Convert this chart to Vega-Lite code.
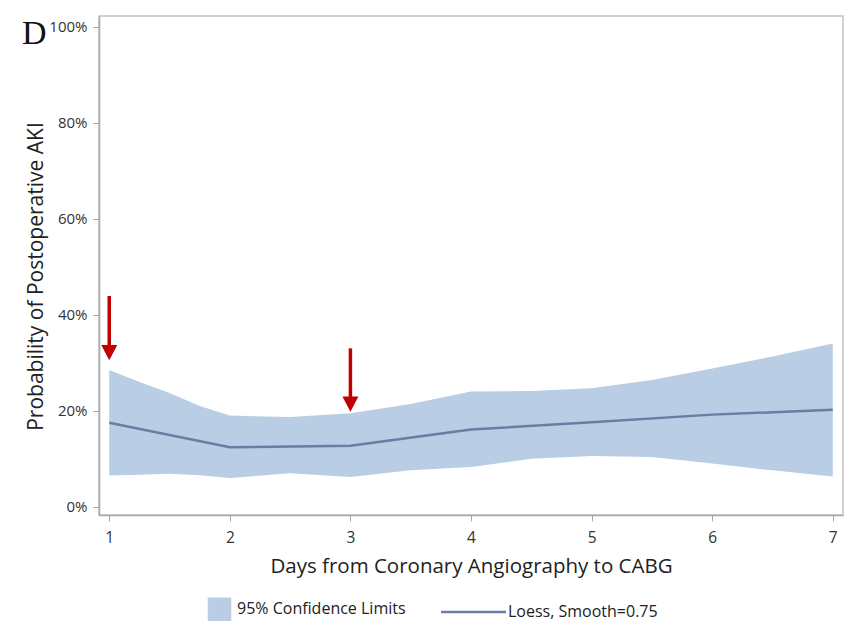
{
  "$schema": "https://vega.github.io/schema/vega-lite/v6.json",
  "width": 744,
  "height": 499,
  "autosize": {"type": "none"},
  "padding": {"left": 99, "top": 16, "right": 3, "bottom": 112},
  "background": "white",
  "config": {
    "font": "Open Sans",
    "view": {"stroke": "#c4c4c4", "strokeWidth": 1.5}
  },
  "title": {
    "text": "D",
    "font": "Liberation Serif",
    "fontSize": 34,
    "fontWeight": "normal",
    "color": "#111111",
    "anchor": "start",
    "frame": "group",
    "orient": "top",
    "baseline": "alphabetic",
    "offset": 0,
    "dx": -77,
    "dy": 62
  },
  "datasets": {
    "band": [
      {"day": 1, "lower": 6.5, "upper": 28.5, "series": "95% Confidence Limits"},
      {"day": 1.25, "lower": 6.7, "upper": 26.0, "series": "95% Confidence Limits"},
      {"day": 1.5, "lower": 6.9, "upper": 23.7, "series": "95% Confidence Limits"},
      {"day": 1.75, "lower": 6.6, "upper": 21.0, "series": "95% Confidence Limits"},
      {"day": 2, "lower": 6.0, "upper": 19.0, "series": "95% Confidence Limits"},
      {"day": 2.5, "lower": 7.0, "upper": 18.7, "series": "95% Confidence Limits"},
      {"day": 3, "lower": 6.2, "upper": 19.5, "series": "95% Confidence Limits"},
      {"day": 3.5, "lower": 7.6, "upper": 21.4, "series": "95% Confidence Limits"},
      {"day": 4, "lower": 8.3, "upper": 24.0, "series": "95% Confidence Limits"},
      {"day": 4.5, "lower": 10.0, "upper": 24.1, "series": "95% Confidence Limits"},
      {"day": 5, "lower": 10.6, "upper": 24.7, "series": "95% Confidence Limits"},
      {"day": 5.5, "lower": 10.4, "upper": 26.4, "series": "95% Confidence Limits"},
      {"day": 6, "lower": 9.0, "upper": 28.8, "series": "95% Confidence Limits"},
      {"day": 6.5, "lower": 7.6, "upper": 31.3, "series": "95% Confidence Limits"},
      {"day": 7, "lower": 6.3, "upper": 34.0, "series": "95% Confidence Limits"}
    ],
    "fit": [
      {"day": 1, "prob": 17.5, "series": "Loess, Smooth=0.75"},
      {"day": 2, "prob": 12.4, "series": "Loess, Smooth=0.75"},
      {"day": 3, "prob": 12.7, "series": "Loess, Smooth=0.75"},
      {"day": 4, "prob": 16.1, "series": "Loess, Smooth=0.75"},
      {"day": 5, "prob": 17.6, "series": "Loess, Smooth=0.75"},
      {"day": 6, "prob": 19.2, "series": "Loess, Smooth=0.75"},
      {"day": 7, "prob": 20.2, "series": "Loess, Smooth=0.75"}
    ],
    "arrows": [
      {"day": 1, "top": 43.9, "head": 32.1},
      {"day": 3, "top": 33.0, "head": 21.4}
    ]
  },
  "layer": [
    {
      "data": {"name": "band"},
      "mark": {"type": "area", "opacity": 1},
      "encoding": {
        "x": {
          "field": "day",
          "type": "quantitative",
          "scale": {"domain": [0.915, 7.085], "nice": false, "zero": false},
          "axis": {
            "values": [1, 2, 3, 4, 5, 6, 7],
            "format": "d",
            "grid": false,
            "title": "Days from Coronary Angiography to CABG",
            "domainColor": "#a8a8a8",
            "domainWidth": 1.5,
            "tickColor": "#a8a8a8",
            "tickSize": 6,
            "labelFontSize": 15.5,
            "labelColor": "#333333",
            "labelPadding": 9,
            "titleFontSize": 20.5,
            "titleFontWeight": "normal",
            "titleColor": "#222222",
            "titlePadding": 11
          }
        },
        "y": {
          "field": "lower",
          "type": "quantitative",
          "scale": {"domain": [-1.7, 102.2], "nice": false, "zero": false},
          "axis": {
            "values": [0, 20, 40, 60, 80, 100],
            "labelExpr": "datum.value + '%'",
            "grid": false,
            "title": "Probability of Postoperative AKI",
            "domainColor": "#a8a8a8",
            "domainWidth": 1.5,
            "tickColor": "#a8a8a8",
            "tickSize": 6,
            "labelFontSize": 15,
            "labelColor": "#333333",
            "labelPadding": 6,
            "titleFontSize": 21,
            "titleFontWeight": "normal",
            "titleColor": "#222222",
            "titlePadding": 2,
            "titleY": 260
          }
        },
        "y2": {"field": "upper"},
        "color": {
          "field": "series",
          "type": "nominal",
          "scale": {
            "domain": ["95% Confidence Limits", "Loess, Smooth=0.75"],
            "range": ["#b9cde5", "#6a7da3"]
          },
          "legend": {
            "title": null,
            "orient": "none",
            "legendX": 116,
            "legendY": 585,
            "direction": "horizontal",
            "labelFontSize": 16,
            "labelColor": "#222222",
            "labelOffset": 6,
            "labelLimit": 400,
            "columnPadding": 30,
            "symbolSize": 500,
            "encode": {
              "symbols": {
                "update": {
                  "shape": {"signal": "datum.value === 'Loess, Smooth=0.75' ? 'stroke' : 'square'"},
                  "size": {"signal": "datum.value === 'Loess, Smooth=0.75' ? 4225 : 500"},
                  "x": {"signal": "datum.value === 'Loess, Smooth=0.75' ? -12.5 : 4.5"},
                  "fill": {"signal": "datum.value === 'Loess, Smooth=0.75' ? 'transparent' : '#b9cde5'"},
                  "stroke": {"signal": "datum.value === 'Loess, Smooth=0.75' ? '#6a7da3' : '#7391c0'"},
                  "strokeWidth": {"signal": "datum.value === 'Loess, Smooth=0.75' ? 2.5 : 1.2"},
                  "opacity": {"value": 1}
                }
              }
            }
          }
        }
      }
    },
    {
      "data": {"name": "fit"},
      "mark": {"type": "line", "strokeWidth": 2.5},
      "encoding": {
        "x": {"field": "day", "type": "quantitative"},
        "y": {"field": "prob", "type": "quantitative"},
        "color": {
          "field": "series",
          "type": "nominal",
          "legend": {
            "title": null,
            "orient": "none",
            "legendX": 116,
            "legendY": 585,
            "direction": "horizontal",
            "labelFontSize": 16,
            "labelColor": "#222222",
            "labelOffset": 6,
            "labelLimit": 400,
            "columnPadding": 30,
            "symbolSize": 500,
            "encode": {
              "symbols": {
                "update": {
                  "shape": {"signal": "datum.value === 'Loess, Smooth=0.75' ? 'stroke' : 'square'"},
                  "size": {"signal": "datum.value === 'Loess, Smooth=0.75' ? 4225 : 500"},
                  "x": {"signal": "datum.value === 'Loess, Smooth=0.75' ? -12.5 : 4.5"},
                  "fill": {"signal": "datum.value === 'Loess, Smooth=0.75' ? 'transparent' : '#b9cde5'"},
                  "stroke": {"signal": "datum.value === 'Loess, Smooth=0.75' ? '#6a7da3' : '#7391c0'"},
                  "strokeWidth": {"signal": "datum.value === 'Loess, Smooth=0.75' ? 2.5 : 1.2"},
                  "opacity": {"value": 1}
                }
              }
            }
          }
        }
      }
    },
    {
      "data": {"name": "arrows"},
      "mark": {"type": "rule", "color": "#c00000", "strokeWidth": 3.5},
      "encoding": {
        "x": {"field": "day", "type": "quantitative"},
        "y": {"field": "top", "type": "quantitative"},
        "y2": {"field": "head"}
      }
    },
    {
      "data": {"name": "arrows"},
      "mark": {
        "type": "point",
        "shape": "M-1,-0.95L0,0.95L1,-0.95Z",
        "size": 256,
        "filled": true,
        "color": "#c00000",
        "opacity": 1
      },
      "encoding": {
        "x": {"field": "day", "type": "quantitative"},
        "y": {"field": "head", "type": "quantitative"}
      }
    }
  ]
}
